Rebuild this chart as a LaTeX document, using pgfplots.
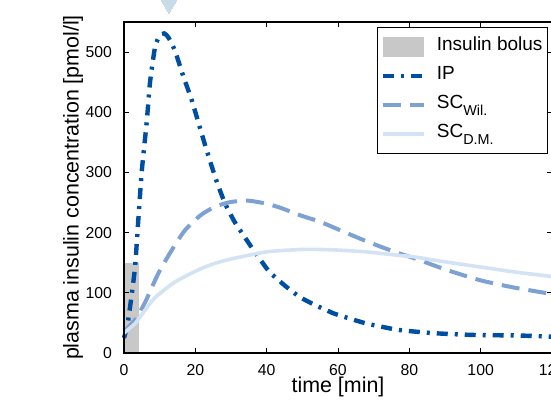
\documentclass[border=0pt]{standalone}
\usepackage{fontspec}
\setmainfont{Liberation Sans}
\usepackage{pgfplots}
\pgfplotsset{compat=1.18}

\definecolor{ipblue}{RGB}{0,78,162}
\definecolor{wilblue}{RGB}{124,161,210}
\definecolor{dmblue}{RGB}{211,227,243}
\definecolor{bolusgray}{RGB}{200,200,200}
\definecolor{tribl}{RGB}{200,219,231}

\newcommand{\sub}[1]{\raisebox{-3.5pt}{\fontsize{7.2}{8}\selectfont #1}}

\begin{document}
\begin{tikzpicture}
\begin{axis}[
    scale only axis,
    width=214pt, height=165.5pt,
    xmin=0, xmax=120, ymin=0, ymax=550,
    xtick={0,20,...,120},
    ytick={0,100,...,500},
    tick align=inside,
    major tick length=2.5pt,
    axis line style={line width=0.8pt},
    every tick/.style={black, line width=0.5pt},
    axis on top,
    clip=false,
    /pgf/number format/assume math mode=true,
    ticklabel style={font=\fontsize{7.9}{9}\selectfont},
    yticklabel style={xshift=-2.5pt},
    xticklabel style={yshift=-2pt},
    xlabel={time [min]},
    ylabel={plasma insulin concentration [pmol/l]},
    label style={font=\fontsize{10.7}{12}\selectfont},
    xlabel style={at={(axis description cs:0.5,-0.103)}, anchor=center},
    ylabel style={at={(axis description cs:-0.119,0.5)}, anchor=center, rotate=0},
    legend cell align=left,
    legend style={
        at={(1,1)}, anchor=north east, xshift=-2pt, yshift=-2.5pt,
        draw=black, line width=0.5pt,
        font=\fontsize{9.5}{11}\selectfont,
        inner xsep=1.5pt, inner ysep=2.5pt,
        nodes={inner xsep=1pt, inner ysep=2pt, text height=7pt, text depth=3.5pt},
        /tikz/every odd column/.append style={column sep=4.5pt},
    },
    legend image code/.code={\draw[#1] (0pt,0pt) -- (20.5pt,0pt);},
]
% insulin bolus
\addplot[fill=bolusgray, draw=none,
    legend image code/.code={\fill[bolusgray] (0pt,-5pt) rectangle (20.5pt,5pt);}]
    coordinates {(0,150) (4.2,150)} \closedcycle;
\addlegendentry{Insulin bolus}
% IP
\addplot[ipblue, line width=2.2pt, smooth, tension=0.4,
    dash pattern=on 5.5pt off 3.5pt on 1.5pt off 3.5pt]
    coordinates {
    (0,25) (1,48) (2,90) (3.1,143) (4,220) (5,303) (6.4,386) (7.3,450)
    (8.7,508) (10,527) (11.3,531) (12.5,524) (14.3,502) (16.5,462)
    (19,420) (21.5,370) (23.8,325) (26,285) (28.3,249) (31,218) (33,200)
    (36.3,171) (38.6,152) (40.9,134) (45.1,112) (49.3,93) (53.5,80)
    (58.7,66) (63.4,57) (68,49) (73.6,42) (77.4,38) (86.7,33) (98,30)
    (111,29) (120,27)
    };
\addlegendentry{IP}
% SC Wil.
\addplot[wilblue, line width=2pt, smooth, tension=0.4,
    dash pattern=on 9pt off 4.5pt]
    coordinates {
    (0,36) (3.1,55) (5.9,84) (9.6,132) (13.4,171) (17.1,204) (21.5,229)
    (25.5,243) (30,251) (35,253) (40,248) (44,241) (49.3,229) (55,218)
    (60.6,204) (66.2,190) (71.8,177) (77.4,165) (81.1,158) (90.5,138)
    (99.8,121) (109.1,109) (120,98)
    };
\addlegendentry{SC\sub{Wil.}}
% SC D.M.
\addplot[dmblue, line width=1.8pt, smooth, tension=0.4]
    coordinates {
    (0,33) (3.1,49) (5,64) (8.7,92) (14.3,118) (20.8,138) (25.5,149)
    (30.6,157) (40,168) (49.3,172) (55,172) (60,171) (68,168) (77.4,162)
    (81.1,160) (90.5,151) (99.8,143) (109.1,135) (120,127)
    };
\addlegendentry{SC\sub{D.M.}}
% marker above the axis
\addplot[forget plot, only marks, color=tribl, mark=triangle*, mark size=4.8pt,
    mark options={rotate=180, fill=tribl, draw=tribl, line width=0pt}]
    coordinates {(12.6,580)};
\end{axis}
\pgfresetboundingbox
\path[use as bounding box] (-62pt,-24pt) rectangle (213.5pt,176.5pt);
\end{tikzpicture}
\end{document}
